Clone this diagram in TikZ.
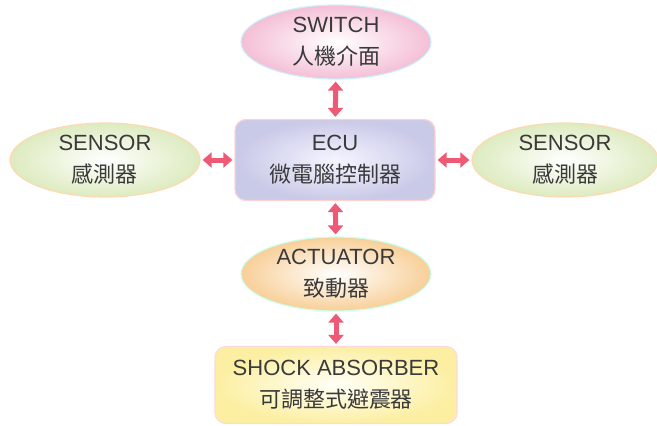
\documentclass[tikz,border=0pt]{standalone}
\usepackage{fontspec}
\setmainfont{Liberation Sans}
\newfontfamily\cjk{Noto Sans CJK TC}
\usetikzlibrary{shapes.geometric,arrows.meta}

\definecolor{txtgray}{HTML}{3A3A3A}
\definecolor{arrowred}{HTML}{EE5A75}
\definecolor{pinkfill}{HTML}{F4BFD6}
\definecolor{greenfill}{HTML}{DDEBC0}
\definecolor{lavfill}{HTML}{C9C9E8}
\definecolor{orangefill}{HTML}{F8CF98}
\definecolor{yellowfill}{HTML}{FCEFA2}

\tikzset{
  label text/.style={align=center,text=txtgray,font=\fontsize{22}{32}\selectfont},
  oval/.style={ellipse,draw,line width=1.2pt,inner sep=0pt,minimum width=190pt,minimum height=74pt,label text},
  box/.style={rectangle,rounded corners=11pt,draw,line width=1.2pt,inner sep=0pt,label text},
  link/.style={arrowred,line width=5pt,{Triangle[width=15pt,length=9pt]}-{Triangle[width=15pt,length=9pt]},shorten <=2pt,shorten >=2pt}
}

\begin{document}
\begin{tikzpicture}[x=1pt,y=-1pt]
\useasboundingbox (0,0) rectangle (657,426);

\node[oval,draw=cyan!20,inner color=white,outer color=pinkfill] (switch) at (336,42) {SWITCH\\{\cjk 人機介面}};
\node[oval,draw=orange!30,inner color=white,outer color=greenfill] (sensorL) at (105,160) {SENSOR\\{\cjk 感測器}};
\node[oval,draw=orange!30,inner color=white,outer color=greenfill,minimum width=186pt] (sensorR) at (565,160) {SENSOR\\{\cjk 感測器}};
\node[box,draw=pink!70,inner color=white!96!blue,outer color=lavfill,minimum width=200pt,minimum height=81pt] (ecu) at (335,160) {ECU\\{\cjk 微電腦控制器}};
\node[oval,draw=green!40!cyan!20,inner color=white,outer color=orangefill] (actuator) at (336,274) {ACTUATOR\\{\cjk 致動器}};
\node[box,draw=pink!60,inner color=white!97!yellow,outer color=yellowfill,minimum width=242pt,minimum height=77pt] (shock) at (336,385) {SHOCK ABSORBER\\{\cjk 可調整式避震器}};

\draw[link] (switch) -- (ecu);
\draw[link] (sensorL) -- (ecu);
\draw[link] (ecu) -- (sensorR);
\draw[link] (ecu) -- (actuator);
\draw[link] (actuator) -- (shock);
\end{tikzpicture}
\end{document}
